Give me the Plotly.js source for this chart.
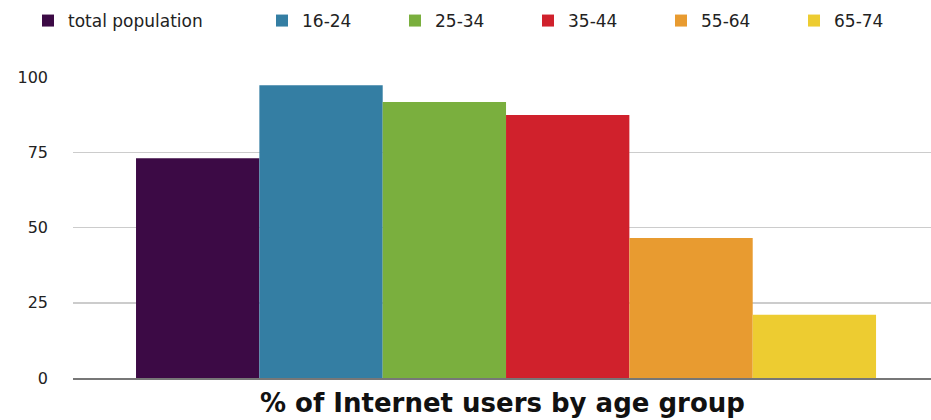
<!DOCTYPE html>
<html>
<head>
<meta charset="utf-8">
<script src="https://cdn.plot.ly/plotly-3.0.1.min.js"></script>
<style>html,body{margin:0;padding:0;background:#fff;}#chart{width:931px;height:420px;}</style>
</head>
<body>
<div id="chart"></div>
<script>
const seriesNames = ["total population", "16-24", "25-34", "35-44", "55-64", "65-74"];
const seriesValues = [73, 97.3, 91.7, 87.4, 46.5, 21];
const seriesColors = ["#3c0a45", "#347ea3", "#7aaf3e", "#d0212c", "#e89b30", "#edcc31"];
const category = ["% of Internet users by age group"];
const yTicks = [0, 25, 50, 75, 100];

const FONT = "DejaVu Sans, Liberation Sans, Arial, sans-serif";

const traces = seriesNames.map((name, i) => ({
  type: "bar",
  name: name,
  x: category,
  y: [seriesValues[i]],
  legend: i === 0 ? "legend" : "legend2",
  marker: {color: seriesColors[i], line: {width: 0}},
  hoverinfo: "name+y"
}));

const legendCommon = {orientation: "h", yanchor: "middle", yref: "container", y: 0.95,
  xref: "container", xanchor: "left", font: {size: 17, color: "#222", family: FONT},
  itemwidth: 30, traceorder: "normal", bgcolor: "rgba(0,0,0,0)", borderwidth: 0};

const layout = {
  width: 931, height: 420,
  margin: {l: 73, r: 0, t: 77, b: 42, pad: 0},
  paper_bgcolor: "#fff", plot_bgcolor: "#fff",
  font: {family: FONT, color: "#222", size: 15},
  barmode: "group", bargap: 0.1375, bargroupgap: 0,
  showlegend: true,
  legend: Object.assign({}, legendCommon, {x: 28 / 931}),
  legend2: Object.assign({}, legendCommon, {x: 262 / 931, entrywidth: 88, entrywidthmode: "pixels"}),
  xaxis: {type: "category", range: [-0.5047, 0.4953], showticklabels: false, showgrid: false,
    zeroline: false, showline: true, linecolor: "#777", linewidth: 2, ticks: "", fixedrange: true},
  yaxis: {range: [0, 100], tickvals: yTicks, ticktext: yTicks.map(String), showgrid: true,
    gridcolor: "#cccccc", gridwidth: 1.5, zeroline: false, showline: false, ticks: "",
    ticklabelstandoff: 24, tickfont: {size: 16, color: "#222", family: FONT}, fixedrange: true},
  annotations: [{text: "<b>% of Internet users by age group</b>", xref: "paper", yref: "paper",
    x: 0.5, y: 0, yshift: -25, xanchor: "center", yanchor: "middle", showarrow: false,
    font: {size: 26, color: "#111", family: FONT}}]
};

Plotly.newPlot("chart", traces, layout, {displayModeBar: false, staticPlot: true});
</script>
</body>
</html>
